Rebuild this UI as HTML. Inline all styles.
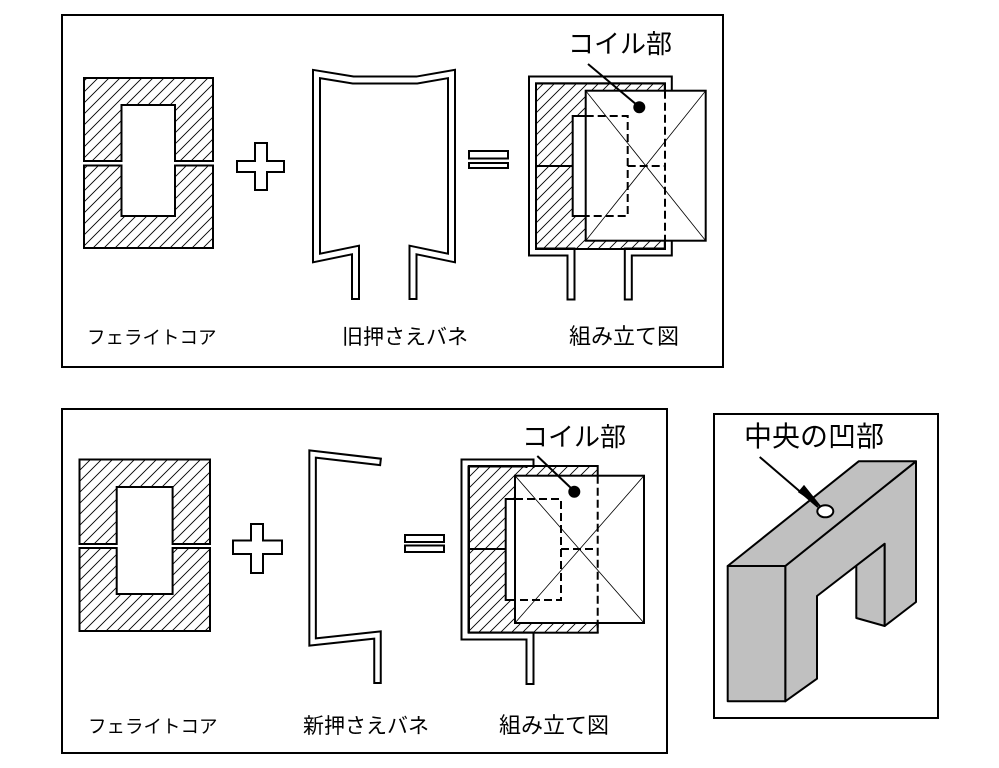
<!DOCTYPE html>
<html><head><meta charset="utf-8"><style>
html,body{margin:0;padding:0;background:#fff;}
svg{display:block;}
text{font-family:"Liberation Sans","Noto Sans CJK JP",sans-serif;fill:#000;}
</style></head><body>
<svg width="999" height="768" viewBox="0 0 999 768" xmlns="http://www.w3.org/2000/svg">
<defs>
<pattern id="h" patternUnits="userSpaceOnUse" width="11" height="11">
<path d="M-2,13 L13,-2 M-2,2 L2,-2 M9,13 L13,9" stroke="#000" stroke-width="0.9"/>
</pattern>
</defs>
<rect width="999" height="768" fill="#fff"/>

<!-- TOP PANEL -->
<rect x="62" y="15" width="661" height="352" fill="none" stroke="#000" stroke-width="2"/>
<g stroke="#000" stroke-width="2">
<path d="M84,78 H213 V161 H175 V105 H121.5 V161 H84 Z" fill="url(#h)"/>
<path d="M84,165.5 H121.5 V216 H175 V165.5 H213 V248 H84 Z" fill="url(#h)"/>
<path d="M255,143 H267 V161 H284 V172 H267 V190 H255 V172 H237 V161 H255 Z" fill="#fff"/>
<rect x="469" y="151" width="39" height="7.5" fill="#fff"/>
<rect x="469" y="163" width="39" height="5" fill="#fff"/>
</g>
<g fill="none" stroke-linejoin="miter">
<path d="M355.5,300 V250 L316.5,258 V74 L353,80 H417 L451.5,74 V258 L413,250 V300" stroke="#000" stroke-width="9"/>
<path d="M355.5,298 V250 L316.5,258 V74 L353,80 H417 L451.5,74 V258 L413,250 V298" stroke="#fff" stroke-width="5"/>
</g>
<g fill="none">
<path d="M571,300.5 V252 H532.5 V80 H668.3 V252 H628.3 V300.5" stroke="#000" stroke-width="9"/>
<path d="M571,298.5 V252 H532.5 V80 H668.3 V252 H628.3 V298.5" stroke="#fff" stroke-width="5"/>
</g>
<path d="M536,83.3 H665 V249 H536 Z M572.7,116 V216 H665 V116 Z" fill="url(#h)" fill-rule="evenodd" stroke="none"/>
<rect x="536" y="83.3" width="129" height="165.7" fill="none" stroke="#000" stroke-width="2"/>
<rect x="572.7" y="116" width="15" height="100" fill="#fff"/>
<path d="M585.7,116 H572.7 V216 H585.7" fill="none" stroke="#000" stroke-width="2"/>
<line x1="536" y1="166" x2="572.7" y2="166" stroke="#000" stroke-width="2"/>
<rect x="585.7" y="90.7" width="120" height="150" fill="#fff" stroke="#000" stroke-width="2"/>
<path d="M585.7,90.7 L705.7,240.7 M705.7,90.7 L585.7,240.7" stroke="#000" stroke-width="0.8"/>
<g stroke="#000" stroke-width="2" fill="none" stroke-dasharray="8,4">
<path d="M585.7,116 H627.7 V216 H585.7"/>
<path d="M665,90.7 V240.7"/>
<path d="M627.7,166 H665"/>
</g>
<circle cx="639.3" cy="107.3" r="6" fill="#000"/>
<line x1="588" y1="64" x2="637" y2="105" stroke="#000" stroke-width="2"/>
<text x="568" y="53" font-size="26">コイル部</text>
<text x="87" y="344" font-size="18.5">フェライトコア</text>
<text x="342" y="344" font-size="21">旧押さえバネ</text>
<text x="569" y="344" font-size="22">組み立て図</text>

<!-- BOTTOM PANEL -->
<rect x="62" y="409" width="605" height="344" fill="none" stroke="#000" stroke-width="2"/>
<g stroke="#000" stroke-width="2">
<path d="M79.5,459.5 H210 V544 H172.6 V487 H116.7 V544 H79.5 Z" fill="url(#h)"/>
<path d="M79.5,548 H116.7 V594 H172.6 V548 H210 V631 H79.5 Z" fill="url(#h)"/>
<path d="M251,524 H263 V540.5 H282 V554 H263 V573 H251 V554 H233 V540.5 H251 Z" fill="#fff"/>
<rect x="405" y="535" width="39" height="7" fill="#fff"/>
<rect x="405" y="545.5" width="39" height="6.5" fill="#fff"/>
</g>
<g fill="none">
<path d="M381.5,462 L312.6,454 V642 L377.5,635 V684" stroke="#000" stroke-width="8.5"/>
<path d="M379.5,461.8 L312.6,454 V642 L377.5,635 V682" stroke="#fff" stroke-width="4.5"/>
</g>
<g fill="none">
<path d="M530,685 V636 H465 V463 H530 V468" stroke="#000" stroke-width="9"/>
<path d="M530,683 V636 H465 V463 H530 V468" stroke="#fff" stroke-width="5"/>
</g>
<path d="M469,466 H597.7 V632.7 H469 Z M505.7,499 V600 H597.7 V499 Z" fill="url(#h)" fill-rule="evenodd"/>
<rect x="469" y="466" width="128.7" height="166.7" fill="none" stroke="#000" stroke-width="2"/>
<path d="M515,499 H505.7 V600 H515" fill="none" stroke="#000" stroke-width="2"/>
<line x1="469" y1="549" x2="505.7" y2="549" stroke="#000" stroke-width="2"/>
<rect x="515" y="475.7" width="129" height="147.3" fill="#fff" stroke="#000" stroke-width="2"/>
<path d="M515,475.7 L644,623 M644,475.7 L515,623" stroke="#000" stroke-width="0.8"/>
<g stroke="#000" stroke-width="2" fill="none" stroke-dasharray="8,4">
<path d="M515,499 H561 V600 H515"/>
<path d="M597.7,475.7 V632.7"/>
<path d="M561,549 H597.7"/>
</g>
<circle cx="574.3" cy="491.7" r="6" fill="#000"/>
<line x1="537.3" y1="456" x2="572" y2="489" stroke="#000" stroke-width="2"/>
<text x="522" y="446" font-size="26">コイル部</text>
<text x="88" y="733" font-size="18.5">フェライトコア</text>
<text x="303" y="733" font-size="21">新押さえバネ</text>
<text x="499" y="733" font-size="22">組み立て図</text>

<!-- RIGHT PANEL -->
<rect x="714" y="414" width="224" height="304" fill="none" stroke="#000" stroke-width="2"/>
<g fill="#c0c0c0" stroke="#000" stroke-width="2" stroke-linejoin="round">
<path d="M856.3,565.3 L884.7,543.7 V626 L856.3,618 Z"/>
<path d="M785.3,566 L916,461.3 V602 L884.7,626 V543.7 L817,596 V678.7 L785.3,701.3 Z"/>
<path d="M727.7,566 L858.7,461.3 H916 L785.3,566 Z"/>
<rect x="727.7" y="566" width="57.6" height="135.3"/>
</g>
<ellipse cx="825.3" cy="511.3" rx="8" ry="6" fill="#fff" stroke="#000" stroke-width="2"/>
<line x1="759.7" y1="457" x2="818" y2="507" stroke="#000" stroke-width="2"/>
<path d="M799,492 L804,486 L820,506 Z" fill="#000" stroke="#000" stroke-width="1.5"/>
<text x="744" y="446" font-size="28">中央の凹部</text>
</svg>
</body></html>
